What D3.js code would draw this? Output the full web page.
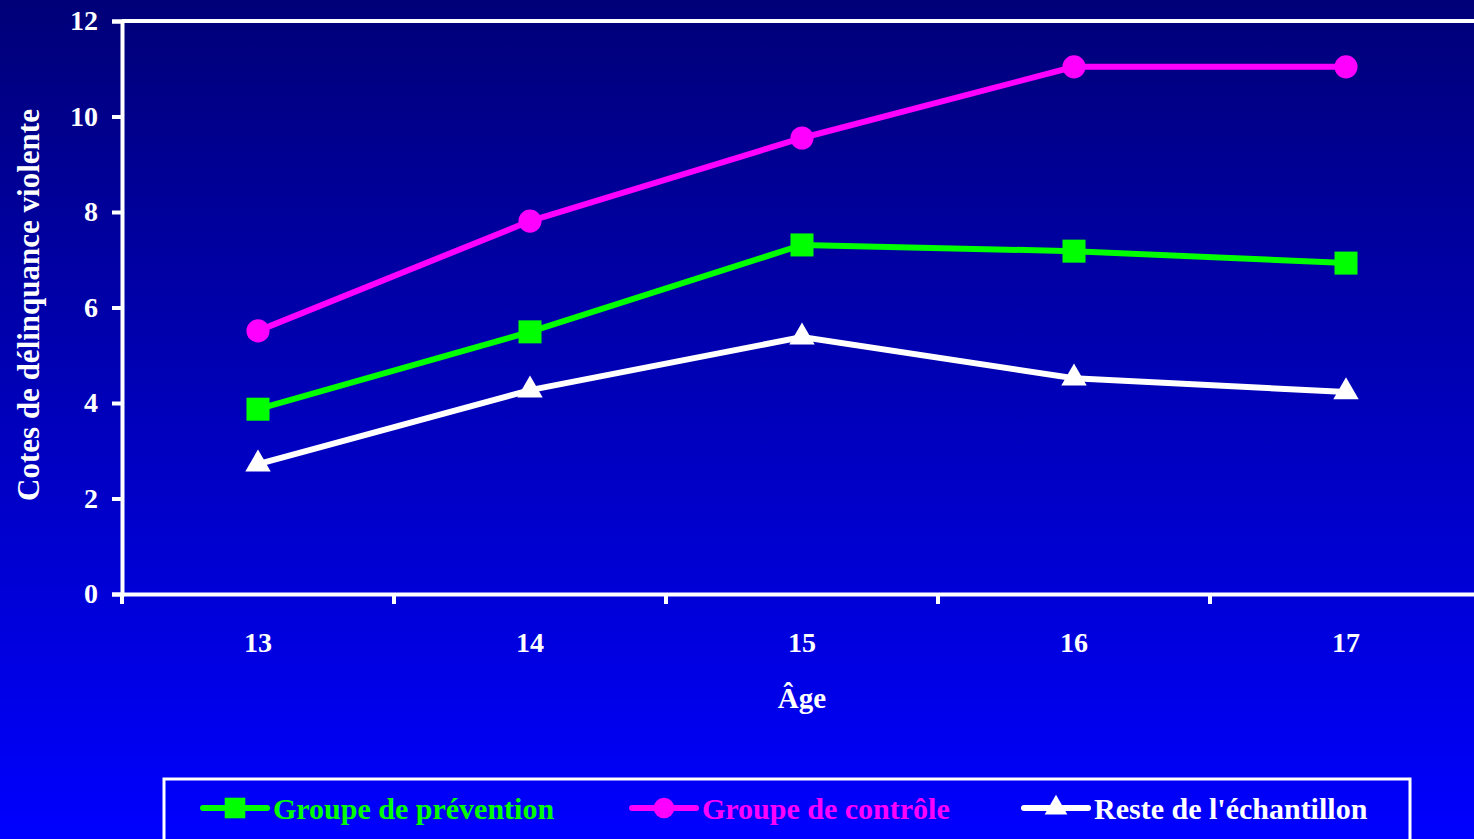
<!DOCTYPE html>
<html>
<head>
<meta charset="utf-8">
<script src="https://cdn.jsdelivr.net/npm/d3@7"></script>
<style>
  body { margin: 0; overflow: hidden; }
  text { font-family: "Liberation Serif", "Times New Roman", serif; font-weight: bold; }
</style>
</head>
<body>
<script>
//Width and height
var w = 1474;
var h = 839;

//Data
var ages = ["13", "14", "15", "16", "17"];
var yTicks = [0, 2, 4, 6, 8, 10, 12];
var prevention = [3.87, 5.49, 7.31, 7.18, 6.93];
var controle = [5.51, 7.81, 9.55, 11.04, 11.04];
var reste = [2.72, 4.27, 5.38, 4.52, 4.23];

var seriesNames = ["Groupe de prévention", "Groupe de contrôle", "Reste de l'échantillon"];
var seriesColors = ["#00ff00", "#ff00ff", "#ffffff"];
var seriesShapes = [d3.symbolSquare, d3.symbolCircle, d3.symbolTriangle];
var seriesSizes = [530, 420, 280];
var seriesData = [prevention, controle, reste];

//Scales
var xScale = d3.scaleBand().domain(ages).range([122, 1482]);
var yScale = d3.scaleLinear().domain([0, 12]).range([594, 21]);

var svg = d3.select("body").append("svg")
  .attr("width", w)
  .attr("height", h);

//Background gradient
var grad = svg.append("defs").append("linearGradient")
  .attr("id", "bg").attr("x1", 0).attr("y1", 0).attr("x2", 0).attr("y2", 1);
grad.append("stop").attr("offset", "0%").attr("stop-color", "#000078");
grad.append("stop").attr("offset", "100%").attr("stop-color", "#0000ff");
svg.append("rect").attr("width", w).attr("height", h).attr("fill", "url(#bg)");

//Plot frame: top line
svg.append("line")
  .attr("x1", 122).attr("x2", w)
  .attr("y1", yScale(12)).attr("y2", yScale(12))
  .attr("stroke", "#fff").attr("stroke-width", 4);

//Y axis
var yAxis = svg.append("g")
  .attr("transform", "translate(122,0)")
  .call(d3.axisLeft(yScale).tickValues(yTicks).tickSize(10).tickPadding(14));
yAxis.selectAll("path, line").attr("stroke", "#fff").attr("stroke-width", 4);
yAxis.selectAll("text").attr("fill", "#fff")
  .style("font-size", "28px").style("font-family", "Liberation Serif").style("font-weight", "bold");

//X axis
var xAxis = svg.append("g")
  .attr("transform", "translate(0," + yScale(0) + ")")
  .call(d3.axisBottom(xScale).tickSize(0).tickPadding(38));
xAxis.select("path").attr("stroke", "#fff").attr("stroke-width", 4);
xAxis.selectAll("text").attr("fill", "#fff")
  .style("font-size", "28px").style("font-family", "Liberation Serif").style("font-weight", "bold");

//X tick marks at band boundaries
svg.append("g").selectAll("line")
  .data(ages)
  .enter().append("line")
  .attr("x1", function(d) { return xScale(d); })
  .attr("x2", function(d) { return xScale(d); })
  .attr("y1", yScale(0))
  .attr("y2", yScale(0) + 10)
  .attr("stroke", "#fff").attr("stroke-width", 4);

//Axis titles
svg.append("text")
  .attr("x", 802).attr("y", 708)
  .attr("text-anchor", "middle")
  .attr("fill", "#fff").style("font-size", "29px")
  .text("Âge");

svg.append("text")
  .attr("transform", "translate(39,305) rotate(-90)")
  .attr("text-anchor", "middle")
  .attr("fill", "#fff").style("font-size", "31px")
  .text("Cotes de délinquance violente");

//Lines
var line = d3.line()
  .x(function(d, i) { return xScale(ages[i]) + xScale.bandwidth() / 2; })
  .y(function(d) { return yScale(d); });

seriesData.forEach(function(data, s) {
  svg.append("path")
    .datum(data)
    .attr("d", line)
    .attr("fill", "none")
    .attr("stroke", seriesColors[s])
    .attr("stroke-width", 6);

  svg.append("g").selectAll("path")
    .data(data)
    .enter().append("path")
    .attr("transform", function(d, i) {
      return "translate(" + (xScale(ages[i]) + xScale.bandwidth() / 2) + "," + yScale(d) + ")";
    })
    .attr("d", d3.symbol().type(seriesShapes[s]).size(seriesSizes[s]))
    .attr("fill", seriesColors[s]);
});

//Legend
svg.append("rect")
  .attr("x", 164).attr("y", 779)
  .attr("width", 1246).attr("height", 80)
  .attr("fill", "none")
  .attr("stroke", "#fff").attr("stroke-width", 3);

var legendX = [203, 632, 1024];
var legend = svg.append("g").selectAll("g")
  .data(seriesNames)
  .enter().append("g")
  .attr("transform", function(d, i) { return "translate(" + legendX[i] + ",808)"; });

legend.append("line")
  .attr("x1", 0).attr("x2", 64)
  .attr("stroke", function(d, i) { return seriesColors[i]; })
  .attr("stroke-width", 6)
  .attr("stroke-linecap", "round");

legend.append("path")
  .attr("transform", "translate(32,0)")
  .attr("d", function(d, i) { return d3.symbol().type(seriesShapes[i]).size(seriesSizes[i] * 0.8)(); })
  .attr("fill", function(d, i) { return seriesColors[i]; });

legend.append("text")
  .attr("x", 70).attr("y", 11)
  .attr("fill", function(d, i) { return seriesColors[i]; })
  .style("font-size", "30px")
  .text(function(d) { return d; });
</script>
</body>
</html>
